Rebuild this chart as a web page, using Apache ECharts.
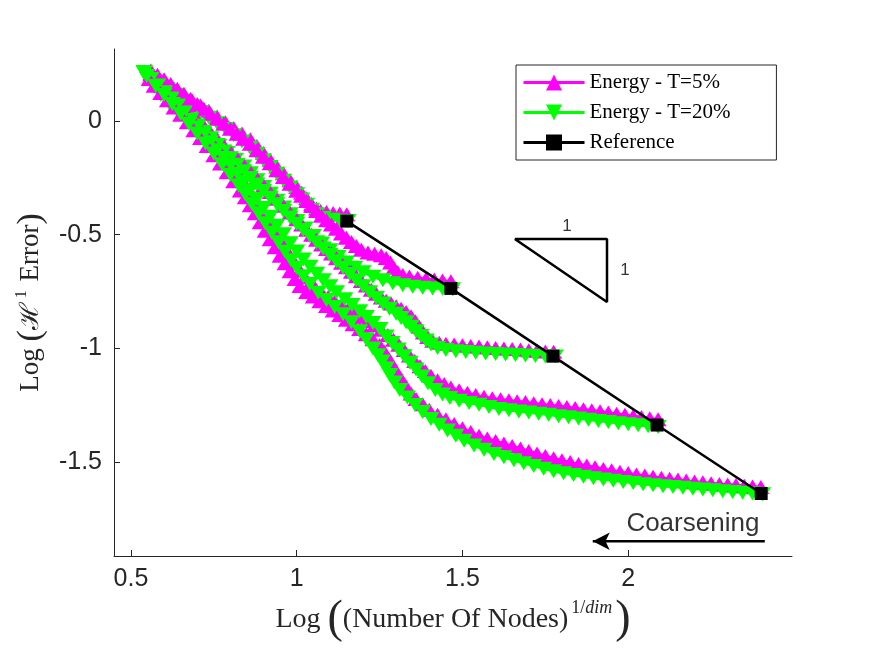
<!DOCTYPE html>
<html lang="en">
<head>
  <meta charset="UTF-8">
  <title>Coarsening error</title>
  <script src="https://cdn.jsdelivr.net/npm/echarts@6/dist/echarts.min.js"></script>
  <style>
    html, body { margin: 0; padding: 0; background: #fff; }
    #chart { width: 875px; height: 656px; }
  </style>
</head>
<body>
  <div id="chart"></div>
<script>
  // axis ticks
  const xTicks = [0.5, 1, 1.5, 2];
  const yTicks = [0, -0.5, -1, -1.5];

  // reference meshes
  const refX = [1.151, 1.465, 1.773, 2.087, 2.401];
  const refY = [-0.44, -0.736, -1.034, -1.337, -1.638];

  // Energy - T=5%  (one curve per starting mesh)
  const t5_c1 = [[1.151,-0.41],[1.13,-0.407],[1.11,-0.404],[1.09,-0.40],[1.072,-0.395],[1.06,-0.385],[1.045,-0.365],[1.03,-0.34],[1.015,-0.315],[1.0,-0.29],[0.98,-0.26],[0.96,-0.23],[0.94,-0.2],[0.92,-0.17],[0.90,-0.14],[0.88,-0.11],[0.86,-0.08],[0.835,-0.055],[0.81,-0.03],[0.785,-0.005],[0.76,0.02],[0.735,0.045],[0.71,0.07],[0.685,0.09],[0.66,0.11],[0.635,0.135],[0.61,0.16],[0.585,0.185],[0.56,0.21]];
  const t5_c2 = [[1.465,-0.705],[1.44,-0.701],[1.415,-0.697],[1.39,-0.693],[1.365,-0.689],[1.34,-0.684],[1.32,-0.677],[1.305,-0.665],[1.293,-0.645],[1.283,-0.622],[1.27,-0.602],[1.255,-0.590],[1.235,-0.584],[1.215,-0.578],[1.195,-0.566],[1.18,-0.550],[1.165,-0.532],[1.15,-0.513],[1.135,-0.494],[1.12,-0.474],[1.105,-0.455],[1.09,-0.436],[1.075,-0.416],[1.06,-0.396],[1.045,-0.374],[1.03,-0.352],[1.015,-0.329],[1.0,-0.306],[0.98,-0.276],[0.96,-0.246],[0.94,-0.216],[0.92,-0.186],[0.90,-0.157],[0.88,-0.128],[0.86,-0.100],[0.84,-0.078],[0.82,-0.056],[0.80,-0.034],[0.78,-0.012],[0.76,0.010],[0.74,0.032],[0.72,0.054],[0.70,0.075],[0.68,0.097],[0.66,0.12],[0.64,0.142],[0.62,0.163],[0.60,0.184],[0.58,0.204],[0.56,0.222]];
  const t5_c3 = [[1.775,-1.015],[1.75,-1.013],[1.725,-1.010],[1.70,-1.008],[1.675,-1.005],[1.65,-1.003],[1.625,-1.0],[1.60,-0.998],[1.575,-0.995],[1.55,-0.992],[1.525,-0.989],[1.50,-0.986],[1.475,-0.983],[1.45,-0.979],[1.43,-0.975],[1.41,-0.966],[1.395,-0.950],[1.382,-0.930],[1.37,-0.905],[1.358,-0.880],[1.345,-0.858],[1.33,-0.840],[1.315,-0.826],[1.30,-0.814],[1.285,-0.802],[1.27,-0.790],[1.255,-0.776],[1.24,-0.760],[1.225,-0.742],[1.21,-0.723],[1.195,-0.703],[1.18,-0.683],[1.165,-0.663],[1.15,-0.643],[1.135,-0.623],[1.12,-0.603],[1.105,-0.583],[1.09,-0.563],[1.075,-0.543],[1.06,-0.522],[1.045,-0.500],[1.03,-0.478],[1.015,-0.455],[1.0,-0.432],[0.98,-0.402],[0.96,-0.372],[0.94,-0.342],[0.92,-0.312],[0.90,-0.282],[0.88,-0.252],[0.86,-0.222],[0.84,-0.192],[0.82,-0.162],[0.80,-0.134],[0.78,-0.106],[0.76,-0.078],[0.74,-0.050],[0.72,-0.022],[0.70,0.006],[0.68,0.034],[0.66,0.062],[0.64,0.090],[0.62,0.118],[0.60,0.146],[0.58,0.174],[0.56,0.205]];
  const t5_c4 = [[2.09,-1.311],[2.065,-1.307],[2.04,-1.302],[2.015,-1.297],[1.99,-1.292],[1.965,-1.287],[1.94,-1.282],[1.915,-1.276],[1.89,-1.272],[1.865,-1.267],[1.84,-1.262],[1.815,-1.258],[1.79,-1.253],[1.765,-1.249],[1.74,-1.245],[1.715,-1.241],[1.69,-1.236],[1.665,-1.232],[1.64,-1.228],[1.615,-1.223],[1.59,-1.219],[1.565,-1.213],[1.54,-1.205],[1.515,-1.195],[1.49,-1.184],[1.465,-1.172],[1.445,-1.157],[1.425,-1.140],[1.405,-1.120],[1.388,-1.099],[1.372,-1.078],[1.356,-1.055],[1.34,-1.031],[1.324,-1.007],[1.308,-0.984],[1.292,-0.962],[1.275,-0.941],[1.255,-0.918],[1.235,-0.898],[1.215,-0.879],[1.195,-0.861],[1.175,-0.844],[1.155,-0.827],[1.135,-0.809],[1.115,-0.792],[1.095,-0.774],[1.075,-0.754],[1.055,-0.732],[1.04,-0.713],[1.025,-0.687],[1.01,-0.658],[0.995,-0.627],[0.98,-0.592],[0.965,-0.556],[0.95,-0.522],[0.935,-0.486],[0.92,-0.447],[0.905,-0.412],[0.89,-0.378],[0.875,-0.344],[0.86,-0.310],[0.845,-0.280],[0.83,-0.250],[0.81,-0.208],[0.79,-0.172],[0.77,-0.137],[0.75,-0.102],[0.73,-0.068],[0.71,-0.033],[0.69,-0.001],[0.67,0.031],[0.65,0.063],[0.63,0.096],[0.61,0.129],[0.59,0.161],[0.566,0.198]];
  const t5_c5 = [[2.40,-1.610],[2.375,-1.607],[2.35,-1.604],[2.325,-1.601],[2.30,-1.599],[2.275,-1.596],[2.25,-1.593],[2.225,-1.589],[2.20,-1.585],[2.175,-1.581],[2.15,-1.577],[2.125,-1.573],[2.10,-1.569],[2.075,-1.564],[2.05,-1.559],[2.025,-1.554],[2.00,-1.548],[1.975,-1.542],[1.95,-1.536],[1.925,-1.530],[1.90,-1.523],[1.875,-1.515],[1.85,-1.508],[1.825,-1.500],[1.80,-1.492],[1.775,-1.483],[1.75,-1.473],[1.725,-1.462],[1.70,-1.451],[1.675,-1.440],[1.65,-1.429],[1.625,-1.418],[1.60,-1.407],[1.575,-1.396],[1.55,-1.384],[1.525,-1.368],[1.50,-1.351],[1.475,-1.332],[1.45,-1.312],[1.425,-1.292],[1.40,-1.270],[1.38,-1.246],[1.36,-1.222],[1.345,-1.198],[1.33,-1.168],[1.318,-1.140],[1.305,-1.112],[1.293,-1.082],[1.28,-1.050],[1.265,-1.015],[1.25,-0.985],[1.23,-0.960],[1.21,-0.938],[1.19,-0.915],[1.17,-0.894],[1.15,-0.874],[1.13,-0.853],[1.11,-0.833],[1.09,-0.813],[1.07,-0.792],[1.05,-0.772],[1.03,-0.752],[1.01,-0.725],[0.995,-0.695],[0.98,-0.660],[0.965,-0.625],[0.95,-0.592],[0.935,-0.555],[0.92,-0.520],[0.905,-0.482],[0.89,-0.445],[0.875,-0.405],[0.86,-0.370],[0.845,-0.335],[0.83,-0.305],[0.81,-0.265],[0.79,-0.225],[0.77,-0.187],[0.75,-0.150],[0.73,-0.110],[0.71,-0.075],[0.69,-0.040],[0.67,-0.005],[0.65,0.028],[0.63,0.060],[0.61,0.092],[0.59,0.123],[0.57,0.155],[0.555,0.185]];

  // Energy - T=20%
  const t20_c1 = [[1.155,-0.44],[1.13,-0.438],[1.105,-0.434],[1.08,-0.426],[1.06,-0.41],[1.045,-0.39],[1.03,-0.368],[1.015,-0.345],[1.0,-0.322],[0.98,-0.292],[0.96,-0.262],[0.94,-0.232],[0.92,-0.202],[0.90,-0.173],[0.88,-0.145],[0.86,-0.118],[0.835,-0.09],[0.81,-0.062],[0.785,-0.035],[0.76,-0.01],[0.735,0.015],[0.71,0.04],[0.685,0.065],[0.66,0.09],[0.635,0.115],[0.61,0.14],[0.585,0.165],[0.56,0.19],[0.54,0.215]];
  const t20_c2 = [[1.47,-0.740],[1.44,-0.738],[1.41,-0.736],[1.38,-0.733],[1.35,-0.729],[1.32,-0.722],[1.29,-0.713],[1.26,-0.700],[1.23,-0.685],[1.20,-0.665],[1.175,-0.645],[1.15,-0.622],[1.125,-0.597],[1.10,-0.568],[1.075,-0.538],[1.05,-0.505],[1.025,-0.472],[1.0,-0.44],[0.98,-0.41],[0.96,-0.38],[0.94,-0.35],[0.92,-0.32],[0.90,-0.29],[0.88,-0.26],[0.86,-0.23],[0.84,-0.20],[0.815,-0.17],[0.79,-0.14],[0.765,-0.11],[0.74,-0.08],[0.715,-0.05],[0.69,-0.02],[0.665,0.01],[0.64,0.045],[0.615,0.08],[0.59,0.115],[0.57,0.15],[0.55,0.185]];
  const t20_c3 = [[1.78,-1.036],[1.75,-1.035],[1.72,-1.033],[1.69,-1.031],[1.66,-1.029],[1.63,-1.027],[1.60,-1.025],[1.57,-1.022],[1.54,-1.019],[1.51,-1.016],[1.48,-1.012],[1.45,-1.007],[1.425,-0.998],[1.405,-0.983],[1.39,-0.965],[1.375,-0.945],[1.36,-0.925],[1.345,-0.905],[1.33,-0.885],[1.315,-0.866],[1.30,-0.848],[1.28,-0.825],[1.26,-0.802],[1.24,-0.778],[1.22,-0.753],[1.20,-0.727],[1.18,-0.700],[1.16,-0.673],[1.14,-0.645],[1.12,-0.617],[1.10,-0.589],[1.08,-0.561],[1.06,-0.533],[1.04,-0.506],[1.02,-0.479],[1.0,-0.452],[0.98,-0.424],[0.96,-0.395],[0.94,-0.366],[0.92,-0.337],[0.90,-0.308],[0.88,-0.279],[0.86,-0.250],[0.84,-0.221],[0.82,-0.192],[0.80,-0.163],[0.78,-0.134],[0.76,-0.105],[0.74,-0.076],[0.72,-0.048],[0.70,-0.020],[0.68,0.008],[0.66,0.037],[0.64,0.066],[0.62,0.095],[0.60,0.125],[0.58,0.155],[0.56,0.185],[0.54,0.215]];
  const t20_c4 = [[2.09,-1.346],[2.06,-1.342],[2.03,-1.338],[2.00,-1.333],[1.97,-1.329],[1.94,-1.324],[1.91,-1.319],[1.88,-1.314],[1.85,-1.308],[1.82,-1.303],[1.79,-1.298],[1.76,-1.292],[1.73,-1.287],[1.70,-1.282],[1.67,-1.277],[1.64,-1.272],[1.61,-1.266],[1.58,-1.258],[1.55,-1.248],[1.52,-1.240],[1.49,-1.230],[1.462,-1.218],[1.44,-1.203],[1.418,-1.183],[1.396,-1.153],[1.378,-1.123],[1.36,-1.093],[1.342,-1.063],[1.324,-1.034],[1.306,-1.005],[1.288,-0.976],[1.27,-0.947],[1.251,-0.915],[1.23,-0.888],[1.21,-0.862],[1.19,-0.836],[1.167,-0.809],[1.145,-0.784],[1.12,-0.753],[1.10,-0.727],[1.08,-0.700],[1.06,-0.672],[1.04,-0.641],[1.02,-0.609],[1.0,-0.574],[0.98,-0.537],[0.96,-0.498],[0.94,-0.460],[0.92,-0.421],[0.90,-0.382],[0.88,-0.343],[0.86,-0.304],[0.84,-0.267],[0.82,-0.232],[0.80,-0.197],[0.78,-0.162],[0.76,-0.128],[0.74,-0.093],[0.72,-0.060],[0.70,-0.028],[0.68,0.005],[0.66,0.038],[0.64,0.069],[0.62,0.099],[0.60,0.127],[0.58,0.156],[0.56,0.185],[0.54,0.215]];
  const t20_c5 = [[2.405,-1.641],[2.375,-1.638],[2.345,-1.635],[2.315,-1.631],[2.285,-1.628],[2.255,-1.624],[2.225,-1.620],[2.195,-1.617],[2.165,-1.613],[2.135,-1.609],[2.105,-1.606],[2.075,-1.602],[2.045,-1.597],[2.015,-1.592],[1.985,-1.587],[1.955,-1.582],[1.925,-1.577],[1.895,-1.571],[1.865,-1.564],[1.835,-1.557],[1.805,-1.549],[1.775,-1.540],[1.745,-1.529],[1.715,-1.517],[1.685,-1.505],[1.655,-1.492],[1.625,-1.479],[1.595,-1.464],[1.565,-1.446],[1.535,-1.427],[1.505,-1.406],[1.48,-1.384],[1.455,-1.361],[1.43,-1.336],[1.405,-1.310],[1.38,-1.280],[1.357,-1.249],[1.334,-1.216],[1.311,-1.183],[1.295,-1.150],[1.281,-1.117],[1.27,-1.088],[1.258,-1.057],[1.245,-1.030],[1.23,-1.000],[1.21,-0.960],[1.19,-0.925],[1.165,-0.885],[1.14,-0.850],[1.115,-0.818],[1.09,-0.787],[1.065,-0.755],[1.04,-0.717],[1.02,-0.682],[1.00,-0.645],[0.983,-0.612],[0.965,-0.575],[0.945,-0.533],[0.925,-0.491],[0.905,-0.449],[0.885,-0.407],[0.865,-0.365],[0.845,-0.322],[0.825,-0.283],[0.80,-0.236],[0.775,-0.190],[0.75,-0.143],[0.725,-0.099],[0.70,-0.055],[0.675,-0.012],[0.65,0.032],[0.625,0.075],[0.60,0.116],[0.575,0.154],[0.548,0.198]];

  // annotations (data coordinates)
  const slopeTriangle = [[1.658,-0.519],[1.936,-0.519],[1.936,-0.796],[1.658,-0.519]];
  const slopeLabels = [[1.815,-0.462],[1.99,-0.656]];
  const arrowFrom = [2.412,-1.848];
  const arrowTo = [1.893,-1.848];
  const arrowText = [2.195,-1.773];

  const MAGENTA = '#ff00ff';
  const GREEN = '#00ff00';
  const AXIS = '#262626';
  const SERIF = "'Liberation Serif', 'DejaVu Serif', serif";
  const SANS = "'Liberation Sans', Arial, sans-serif";

  function energy(name, pts, color, rot) {
    return {
      name: name,
      type: 'line',
      data: pts,
      symbol: 'triangle',
      symbolSize: [17, 14],
      symbolRotate: rot,
      showSymbol: true,
      color: color,
      itemStyle: { color: color },
      lineStyle: { color: color, width: 2.5 },
      silent: true
    };
  }

  const t5 = [t5_c1, t5_c2, t5_c3, t5_c4, t5_c5];
  const t20 = [t20_c1, t20_c2, t20_c3, t20_c4, t20_c5];
  const series = [];
  for (let k = 0; k < 5; k++) {
    series.push(energy('Energy - T=5%', t5[k], MAGENTA, 0));
    series.push(energy('Energy - T=20%', t20[k], GREEN, 180));
  }

  series.push({
    name: 'Reference',
    type: 'line',
    data: refX.map((x, i) => [x, refY[i]]),
    symbol: 'rect',
    symbolSize: 13,
    color: '#000',
    itemStyle: { color: '#000' },
    lineStyle: { color: '#000', width: 2.5 },
    z: 5,
    silent: true
  });

  series.push({
    name: 'slope',
    type: 'line',
    data: slopeTriangle,
    symbol: 'none',
    lineStyle: { color: '#000', width: 2.5 },
    silent: true
  });

  series.push({
    name: 'arrow',
    type: 'line',
    data: [
      { value: arrowFrom, symbol: 'none' },
      { value: arrowTo, symbol: 'arrow', symbolSize: [13, 17], symbolRotate: 90 }
    ],
    lineStyle: { color: '#000', width: 2.5 },
    itemStyle: { color: '#000' },
    silent: true
  });

  series.push({
    name: 'notes',
    type: 'scatter',
    symbolSize: 1,
    itemStyle: { color: 'transparent' },
    data: [
      { value: slopeLabels[0], label: { formatter: '1', fontSize: 17 } },
      { value: slopeLabels[1], label: { formatter: '1', fontSize: 17 } },
      { value: arrowText, label: { formatter: 'Coarsening', fontSize: 26 } }
    ],
    label: { show: true, position: 'inside', color: '#000', fontFamily: SANS },
    silent: true
  });

  const chart = echarts.init(document.getElementById('chart'));
  chart.setOption({
    animation: false,
    backgroundColor: '#fff',
    grid: { left: 114, right: 83, top: 49, bottom: 100, outerBoundsMode: 'none' },
    legend: {
      data: ['Energy - T=5%', 'Energy - T=20%', 'Reference'],
      orient: 'vertical',
      left: 516,
      top: 65,
      padding: [7, 46, 7, 6],
      itemWidth: 61,
      itemHeight: 20,
      itemGap: 9,
      borderColor: AXIS,
      borderWidth: 1,
      borderRadius: 0,
      backgroundColor: '#fff',
      lineStyle: { width: 3 },
      selectedMode: false,
      textStyle: { fontFamily: SERIF, fontSize: 21, color: '#000' }
    },
    xAxis: {
      type: 'value',
      min: 0.449,
      max: 2.494,
      name: '{a|Log }{p|(}{a|(Number Of Nodes)}{s|1/}{i|dim}{p|)}',
      nameLocation: 'middle',
      nameGap: 30,
      nameTextStyle: {
        rich: {
          a: { fontFamily: SERIF, fontSize: 28, color: AXIS },
          p: { fontFamily: SERIF, fontSize: 46, color: AXIS },
          s: { fontFamily: SERIF, fontSize: 18, color: AXIS, verticalAlign: 'top', padding: [2, 0, 0, 3] },
          i: { fontFamily: SERIF, fontSize: 18, fontStyle: 'italic', color: AXIS, verticalAlign: 'top', padding: [2, 3, 0, 0] }
        }
      },
      axisLine: { show: true, onZero: false, lineStyle: { color: AXIS, width: 1 } },
      axisTick: { show: true, inside: true, length: 6, customValues: xTicks, lineStyle: { color: AXIS } },
      axisLabel: { customValues: xTicks, margin: 11, fontSize: 25, fontFamily: SANS, color: AXIS },
      splitLine: { show: false }
    },
    yAxis: {
      type: 'value',
      min: -1.913,
      max: 0.317,
      name: '{a|Log }{p|(}{h|ℋ}{s|1}{a| Error}{p|)}',
      nameLocation: 'middle',
      nameRotate: 90,
      nameGap: 60,
      nameTextStyle: {
        rich: {
          a: { fontFamily: SERIF, fontSize: 27, color: AXIS },
          p: { fontFamily: SERIF, fontSize: 34, color: AXIS },
          h: { fontFamily: SERIF, fontSize: 26, color: AXIS, padding: [0, 4, 0, 0] },
          s: { fontFamily: SERIF, fontSize: 16, color: AXIS, verticalAlign: 'top', padding: [0, 2, 0, 0] }
        }
      },
      axisLine: { show: true, onZero: false, lineStyle: { color: AXIS, width: 1 } },
      axisTick: { show: true, inside: true, length: 6, customValues: yTicks, lineStyle: { color: AXIS } },
      axisLabel: { customValues: yTicks, margin: 12, fontSize: 25, fontFamily: SANS, color: AXIS },
      splitLine: { show: false }
    },
    series: series
  });
</script>
</body>
</html>
